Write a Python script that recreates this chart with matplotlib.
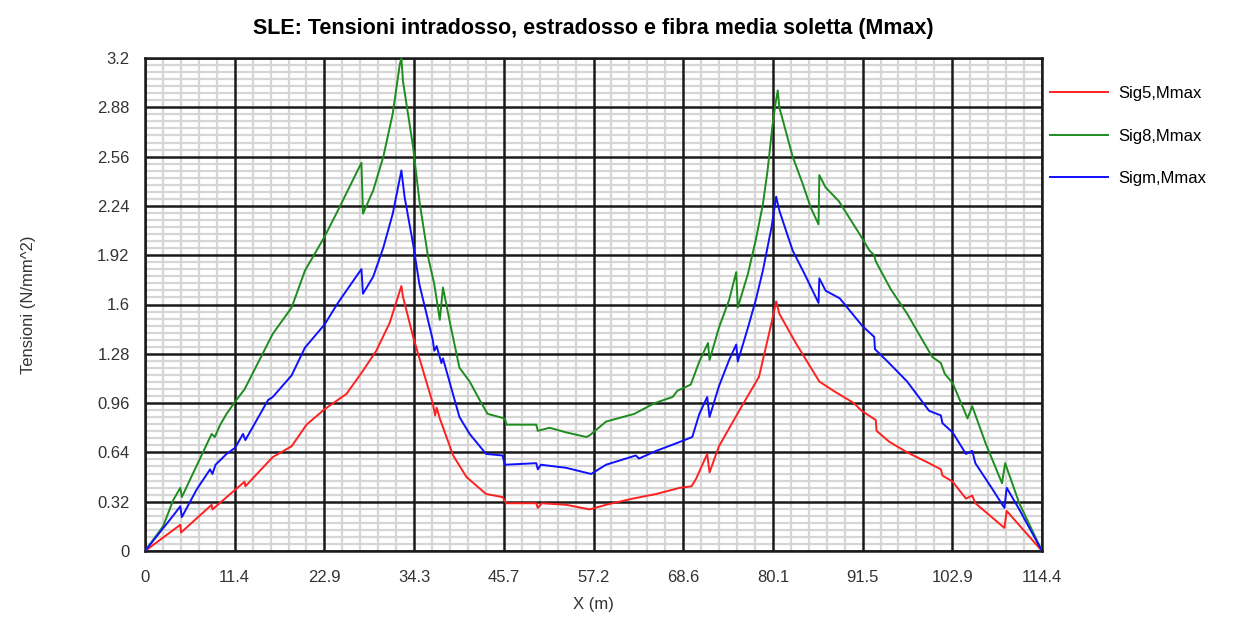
import matplotlib
matplotlib.use('Agg')
import matplotlib.pyplot as plt
from matplotlib.ticker import MultipleLocator, FixedLocator
import numpy as np

plt.rcParams['font.family'] = ['Liberation Sans', 'DejaVu Sans']

# dati (X in m, tensioni in N/mm^2)
x_sig8 = [0, 2.3, 3.6, 4.5, 4.7, 7.2, 8.5, 8.9, 9.6, 10.4, 11.5, 12.7, 16.3, 18.7, 20.4,
          22.9, 24.6, 27.6, 27.8, 29.1, 30.4, 31.6, 32.5, 32.7, 32.9, 34.2, 35.0, 36.1,
          36.9, 37.6, 38.0, 38.9, 40.1, 41.4, 42.9, 43.7, 45.9, 46.1, 49.9, 50.1, 51.6,
          53.7, 56.3, 56.7, 58.8, 62.4, 65.0, 67.3, 67.9, 69.6, 70.7, 71.8, 72.0, 73.2,
          74.5, 75.4, 75.6, 76.9, 77.9, 78.8, 79.4, 80.0, 80.4, 80.7, 80.9, 82.6, 83.9,
          84.9, 85.9, 86.0, 86.8, 88.5, 91.1, 92.4, 93.0, 93.2, 95.1, 97.2, 100.4, 101.5,
          102.0, 103.0, 104.5, 104.9, 105.5, 107.2, 109.3, 109.7, 111.5, 114.4]
sig8 = [0, 0.16, 0.33, 0.41, 0.35, 0.62, 0.76, 0.74, 0.82, 0.89, 0.97, 1.05, 1.41, 1.58, 1.82,
        2.04, 2.21, 2.52, 2.19, 2.34, 2.56, 2.84, 3.16, 3.20, 3.05, 2.62, 2.27, 1.91,
        1.73, 1.50, 1.71, 1.48, 1.19, 1.10, 0.96, 0.89, 0.86, 0.82, 0.82, 0.78, 0.80,
        0.77, 0.74, 0.75, 0.84, 0.89, 0.96, 1.00, 1.04, 1.08, 1.23, 1.35, 1.24, 1.45,
        1.63, 1.81, 1.58, 1.80, 2.02, 2.25, 2.47, 2.75, 2.90, 2.99, 2.88, 2.56, 2.38,
        2.23, 2.12, 2.44, 2.36, 2.27, 2.06, 1.95, 1.92, 1.88, 1.70, 1.54, 1.26, 1.22,
        1.15, 1.09, 0.91, 0.86, 0.94, 0.70, 0.44, 0.57, 0.31, 0]

x_sigm = [0, 3.6, 4.5, 4.7, 6.6, 8.3, 8.6, 9.0, 10.4, 11.5, 12.5, 12.8, 15.7, 16.3, 18.7,
          20.4, 22.9, 24.6, 27.6, 27.8, 29.1, 30.4, 31.6, 32.7, 33.1, 34.2, 35.0, 36.7,
          36.9, 37.2, 37.8, 38.0, 40.1, 41.4, 43.5, 45.6, 45.9, 49.9, 50.1, 50.5, 53.7,
          56.9, 58.8, 62.6, 63.0, 65.2, 67.8, 69.8, 70.7, 71.7, 72.0, 73.2, 74.5, 75.4,
          75.6, 76.9, 77.9, 78.8, 79.9, 80.5, 80.9, 82.6, 84.1, 85.9, 86.0, 86.8, 88.6,
          91.5, 93.0, 93.1, 94.9, 97.2, 100.0, 101.5, 101.7, 103.0, 104.7, 105.5, 105.9,
          108.1, 109.6, 109.9, 111.5, 114.4]
sigm = [0, 0.23, 0.29, 0.22, 0.40, 0.53, 0.50, 0.56, 0.63, 0.67, 0.76, 0.72, 0.98, 1.00, 1.14,
        1.32, 1.47, 1.61, 1.83, 1.67, 1.78, 1.97, 2.19, 2.47, 2.30, 1.99, 1.73, 1.37,
        1.30, 1.33, 1.22, 1.25, 0.87, 0.76, 0.63, 0.62, 0.56, 0.57, 0.53, 0.56, 0.54,
        0.50, 0.56, 0.62, 0.60, 0.65, 0.70, 0.74, 0.89, 1.00, 0.87, 1.07, 1.24, 1.34,
        1.23, 1.45, 1.63, 1.82, 2.10, 2.30, 2.21, 1.95, 1.80, 1.61, 1.77, 1.69, 1.64,
        1.46, 1.39, 1.31, 1.22, 1.10, 0.91, 0.88, 0.83, 0.77, 0.63, 0.65, 0.57,
        0.40, 0.28, 0.41, 0.27, 0]

x_sig5 = [0, 4.5, 4.6, 8.5, 8.6, 12.7, 12.8, 16.3, 18.7, 20.6, 22.9, 25.7, 27.8, 29.5, 31.2,
          32.7, 32.9, 34.2, 35.7, 36.7, 37.0, 37.2, 37.6, 39.3, 41.0, 43.5, 45.6, 46.1,
          49.9, 50.1, 50.6, 53.7, 56.7, 58.8, 62.2, 65.2, 68.2, 69.7, 70.3, 71.7, 72.0,
          73.2, 76.0, 78.3, 79.9, 80.5, 80.9, 83.0, 86.0, 87.8, 90.4, 91.4, 93.2, 93.3,
          94.9, 97.2, 100.0, 101.5, 101.7, 103.0, 104.7, 105.5, 105.9, 109.6, 109.9, 114.4]
sig5 = [0, 0.17, 0.12, 0.30, 0.27, 0.45, 0.42, 0.61, 0.68, 0.82, 0.92, 1.02, 1.17, 1.30, 1.48,
        1.72, 1.65, 1.39, 1.13, 0.96, 0.88, 0.93, 0.86, 0.62, 0.48, 0.37, 0.35, 0.31,
        0.31, 0.28, 0.31, 0.30, 0.27, 0.30, 0.34, 0.37, 0.41, 0.42, 0.47, 0.63, 0.51,
        0.68, 0.93, 1.13, 1.48, 1.62, 1.54, 1.35, 1.10, 1.04, 0.96, 0.91, 0.85, 0.78,
        0.71, 0.64, 0.57, 0.53, 0.49, 0.45, 0.34, 0.36, 0.31, 0.15, 0.26, 0]

x_ticks = [0, 11.44, 22.88, 34.32, 45.76, 57.2, 68.64, 80.08, 91.52, 102.96, 114.4]
x_labels = ['0', '11.4', '22.9', '34.3', '45.7', '57.2', '68.6', '80.1', '91.5', '102.9', '114.4']
y_ticks = [0, 0.32, 0.64, 0.96, 1.28, 1.6, 1.92, 2.24, 2.56, 2.88, 3.2]
y_labels = ['0', '0.32', '0.64', '0.96', '1.28', '1.6', '1.92', '2.24', '2.56', '2.88', '3.2']

fig = plt.figure(figsize=(12.36, 6.19), dpi=100)
ax = fig.add_axes([145 / 1236, 1 - 551 / 619, (1042 - 145) / 1236, (551 - 58) / 619])

ax.plot(x_sig5, sig5, color='#ff2020', lw=1.4, label='Sig5,Mmax', zorder=3)
ax.plot(x_sig8, sig8, color='#1e8c1e', lw=1.4, label='Sig8,Mmax', zorder=3)
ax.plot(x_sigm, sigm, color='#1010ff', lw=1.4, label='Sigm,Mmax', zorder=3)

ax.set_xlim(0, 114.4)
ax.set_ylim(0, 3.2)
ax.xaxis.set_major_locator(FixedLocator(x_ticks))
ax.set_xticklabels(x_labels)
ax.yaxis.set_major_locator(FixedLocator(y_ticks))
ax.set_yticklabels(y_labels)
ax.xaxis.set_minor_locator(MultipleLocator(11.44 / 5))
ax.yaxis.set_minor_locator(MultipleLocator(0.32 / 7))
ax.set_axisbelow(True)
ax.grid(which='minor', color='#d6d6d6', lw=1.6)
# griglia principale sopra quella secondaria
for t in x_ticks:
    ax.axvline(t, color='#1a1a1a', lw=1.8, zorder=1)
for t in y_ticks:
    ax.axhline(t, color='#1a1a1a', lw=1.8, zorder=1)
ax.tick_params(which='both', length=0, labelsize=12, colors='#333333')
ax.tick_params(axis='x', pad=14)
ax.tick_params(axis='y', pad=11)
for s in ax.spines.values():
    s.set_color('#1a1a1a')
    s.set_linewidth(1.8)

ax.set_title('SLE: Tensioni intradosso, estradosso e fibra media soletta (Mmax)',
             fontsize=15.5, fontweight='bold', pad=17)
ax.set_xlabel('X (m)', fontsize=12, color='#333333', labelpad=8)
ax.set_ylabel('Tensioni (N/mm^2)', fontsize=12, color='#333333', labelpad=44)

ax.legend(loc='upper left', bbox_to_anchor=(1.009, 0.943), frameon=False, borderaxespad=0,
          borderpad=0, fontsize=12, handlelength=3.5, handletextpad=0.6, labelspacing=1.65)

fig.savefig('out.png', dpi=100)
